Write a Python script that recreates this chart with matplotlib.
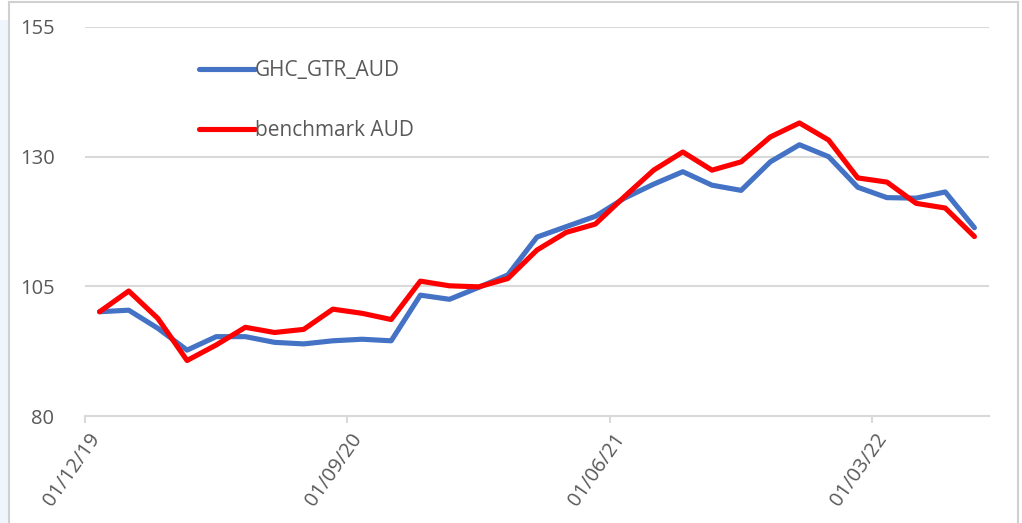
import matplotlib
matplotlib.use("Agg")
import matplotlib.pyplot as plt
from matplotlib.patches import Rectangle
from matplotlib.lines import Line2D

# monthly index values, Dec 2019 .. Jun 2022
months = ["12/19", "01/20", "02/20", "03/20", "04/20", "05/20", "06/20", "07/20",
          "08/20", "09/20", "10/20", "11/20", "12/20", "01/21", "02/21", "03/21",
          "04/21", "05/21", "06/21", "07/21", "08/21", "09/21", "10/21", "11/21",
          "12/21", "01/22", "02/22", "03/22", "04/22", "05/22", "06/22"]
ghc_gtr_aud = [100.1, 100.4, 96.9, 92.7, 95.3, 95.3, 94.2, 93.9, 94.5, 94.8,
               94.5, 103.3, 102.5, 104.8, 107.2, 114.5, 116.5, 118.5, 122.0, 124.7,
               127.1, 124.5, 123.5, 129.0, 132.3, 130.0, 124.1, 122.1, 122.0, 123.2,
               116.3]
benchmark_aud = [100.1, 104.1, 98.8, 90.7, 93.7, 97.1, 96.1, 96.7, 100.6, 99.8,
                 98.6, 106.0, 105.1, 104.9, 106.5, 112.0, 115.4, 117.0, 122.3, 127.4,
                 130.9, 127.4, 129.0, 133.8, 136.5, 133.2, 125.9, 125.1, 121.0, 120.1,
                 114.6]
tick_labels = ["01/12/19", "01/09/20", "01/06/21", "01/03/22"]
tick_pos = [-0.5, 8.5, 17.5, 26.5]
y_ticks = [80, 105, 130, 155]

W, H = 1022, 523
font = "Open Sans"
grey_txt = "#595959"
fig = plt.figure(figsize=(W / 100, H / 100), dpi=100)
fig.patch.set_facecolor("white")

# outer frame like the pasted Excel chart
fig.patches.append(Rectangle((0, 0), 8 / W, (H - 20) / H, transform=fig.transFigure,
                             facecolor="#eef5fc", edgecolor="none", zorder=0))
border = dict(transform=fig.transFigure, color="#d0d0d0", lw=1.5, zorder=1)
fig.lines.append(Line2D([8.5 / W, 8.5 / W], [0, 1 - 1.5 / H], **border))
fig.lines.append(Line2D([8.5 / W, 1018 / W], [1 - 1.5 / H, 1 - 1.5 / H], **border))
fig.lines.append(Line2D([1018 / W, 1018 / W], [0, 1 - 1.5 / H], **border))

ax = fig.add_axes([85 / W, 1 - 416 / H, (989 - 85) / W, (416 - 27) / H])
ax.set_facecolor("none")

x = list(range(len(months)))
ax.plot(x, ghc_gtr_aud, color="#4472C4", lw=3.7, label="GHC_GTR_AUD",
        solid_joinstyle="round", solid_capstyle="round", zorder=3)
ax.plot(x, benchmark_aud, color="#FF0000", lw=3.7, label="benchmark AUD",
        solid_joinstyle="round", solid_capstyle="round", zorder=4)

ax.set_xlim(-0.5, len(months) - 0.5)
ax.set_ylim(80, 155)
ax.set_yticks(y_ticks)
ax.set_yticklabels([str(v) for v in y_ticks], fontfamily=font, fontsize=14.5,
                   color=grey_txt)
ax.set_xticks(tick_pos)
ax.set_xticklabels([])
# rotated date labels, placed like Excel does
for pos, lab in zip(tick_pos, tick_labels):
    ax.annotate(lab, xy=(pos, 0), xycoords=ax.get_xaxis_transform(),
                xytext=(11, -19), textcoords="offset pixels",
                rotation=55, ha="right", va="center", rotation_mode="anchor",
                fontfamily=font, fontsize=14.5, color=grey_txt)

ax.grid(axis="y", color="#d9d9d9", lw=1.5)
ax.set_axisbelow(True)
for s in ["top", "right", "left"]:
    ax.spines[s].set_visible(False)
ax.spines["bottom"].set_color("#d9d9d9")
ax.spines["bottom"].set_linewidth(1.5)
ax.tick_params(axis="y", length=0, pad=22)
ax.tick_params(axis="x", length=5, width=1.5, color="#d9d9d9", pad=0)

leg = ax.legend(loc="upper left", bbox_to_anchor=(189 / W, 1 - 50 / H),
                bbox_transform=fig.transFigure, frameon=False, borderpad=0,
                handlelength=2.65, handletextpad=0.0, labelspacing=1.85,
                prop={"family": font, "size": 15})
for t in leg.get_texts():
    t.set_color(grey_txt)

fig.savefig("out.png", dpi=100, facecolor=fig.get_facecolor())
